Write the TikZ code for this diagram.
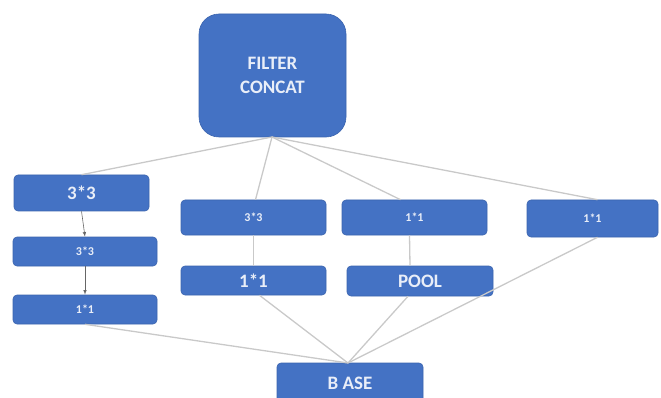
\documentclass[tikz,border=0pt]{standalone}
\usepackage{fontspec}
\setmainfont{Carlito}
\definecolor{boxblue}{HTML}{4472C4}
\definecolor{boxedge}{HTML}{3B64AE}
\definecolor{linkgray}{HTML}{C9C9C9}
\definecolor{labelwhite}{HTML}{E9EEF8}
\begin{document}
\begin{tikzpicture}[x=1pt,y=-1pt,
  blk/.style={draw=boxedge,line width=0.6pt,fill=boxblue,rounded corners=4pt,
    inner sep=0pt,text=labelwhite,align=center},
  big/.style={font=\bfseries\fontsize{19}{21}\selectfont},
  small/.style={font=\bfseries\fontsize{12}{14}\selectfont},
  link/.style={draw=linkgray,line width=1.3pt},
  flow/.style={draw=gray!80!black,line width=0.6pt,-{latex}}
]
\useasboundingbox (0,0) rectangle (661,398);
% output concatenation
\node[blk,rounded corners=20pt,minimum width=147pt,minimum height=123pt,
  font=\bfseries\fontsize{19}{24}\selectfont] (cat) at (272.5,75.5) {FILTER\\CONCAT};
% branch 1: 1x1 -> 3x3 -> 3x3
\node[blk,big,minimum width=135pt,minimum height=36pt] (a3) at (81.5,193) {3*3};
\node[blk,small,minimum width=144pt,minimum height=29pt] (a2) at (85,251.5) {3*3};
\node[blk,small,minimum width=144pt,minimum height=29pt] (a1) at (85,309.5) {1*1};
% branch 2: 1x1 -> 3x3
\node[blk,small,minimum width=145pt,minimum height=35pt] (b2) at (253.5,217.5) {3*3};
\node[blk,big,minimum width=145pt,minimum height=29pt] (b1) at (253.5,280.5) {1*1};
% branch 3: pool -> 1x1
\node[blk,small,minimum width=145pt,minimum height=35pt] (c2) at (414.5,217.5) {1*1};
\node[blk,big,minimum width=146pt,minimum height=30pt] (c1) at (420,281) {POOL};
% branch 4: 1x1
\node[blk,small,minimum width=131pt,minimum height=37pt] (d1) at (592.5,218.5) {1*1};
% input
\node[blk,big,minimum width=146pt,minimum height=40pt] (base) at (350,383) {B ASE};
% connections into the concatenation
\coordinate (catb) at (272,137);
\coordinate (baset) at (348,363);
\draw[link] (catb) -- (a3.north);
\draw[link] (catb) -- ([xshift=2pt]b2.north);
\draw[link] (catb) -- ([xshift=-14pt]c2.north);
\draw[link] (catb) -- ([xshift=5pt]d1.north);
% inside the branches
\draw[flow] (a3.south) -- (a2.north);
\draw[flow] (a2.south) -- (a1.north);
\draw[link] (b2.south) -- (b1.north);
\draw[link] ([xshift=-5pt]c2.south) -- ([xshift=-10pt]c1.north);
% connections from the input
\draw[link] (a1.south) -- (baset);
\draw[link] ([xshift=6pt]b1.south) -- (baset);
\draw[link] ([xshift=-12pt]c1.south) -- (baset);
\draw[link] ([xshift=5pt]d1.south) -- (baset);
\end{tikzpicture}
\end{document}
